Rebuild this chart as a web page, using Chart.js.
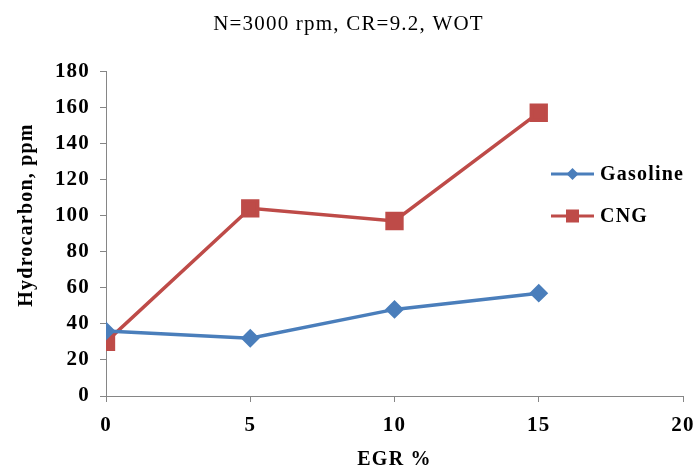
<!DOCTYPE html>
<html><head><meta charset="utf-8">
<script src="https://cdn.jsdelivr.net/npm/chart.js@4/dist/chart.umd.min.js"></script>
<style>html,body{margin:0;padding:0;background:#fff}#wrap{width:697px;height:469px}</style>
</head><body><div id="wrap"><canvas id="c" width="697" height="469"></canvas></div>
<script>
const egr = [0, 5, 10, 15];
const gasoline = [36, 32, 48, 57];
const cng = [30, 104, 97, 157];
const seriesNames = ['Gasoline', 'CNG'];
const titleText = 'N=3000 rpm, CR=9.2, WOT';
const xTitle = 'EGR %';
const yTitle = 'Hydrocarbon, ppm';

const FONT = "'Liberation Serif', 'Times New Roman', serif";
const axisColor = '#868686';
const SPACING = '1.2px';

const spacingPlugin = {
  id: 'spacing',
  beforeLayout(chart) { chart.ctx.letterSpacing = SPACING; },
  beforeDraw(chart) { chart.ctx.letterSpacing = SPACING; }
};

const yTitlePlugin = {
  id: 'yTitle',
  afterDraw(chart) {
    const ctx = chart.ctx;
    ctx.save();
    ctx.letterSpacing = SPACING;
    ctx.translate(27, 215);
    ctx.rotate(-Math.PI / 2);
    ctx.fillStyle = '#000';
    ctx.font = 'bold 20px ' + FONT;
    ctx.textAlign = 'center';
    ctx.textBaseline = 'middle';
    ctx.fillText(yTitle, 0, 0);
    ctx.restore();
  }
};

const legendPlugin = {
  id: 'customLegend',
  afterDraw(chart) {
    const ctx = chart.ctx;
    const rows = [174, 216];
    chart.data.datasets.forEach((ds, i) => {
      const y = rows[i];
      ctx.save();
      ctx.letterSpacing = SPACING;
      ctx.strokeStyle = ds.borderColor;
      ctx.lineWidth = 3;
      ctx.beginPath(); ctx.moveTo(551, y); ctx.lineTo(594, y); ctx.stroke();
      ctx.fillStyle = ds.backgroundColor;
      const cx = 572.5;
      if (ds.pointStyle === 'rectRot') {
        ctx.beginPath(); ctx.moveTo(cx, y - 6); ctx.lineTo(cx + 6, y); ctx.lineTo(cx, y + 6); ctx.lineTo(cx - 6, y); ctx.closePath(); ctx.fill();
      } else {
        ctx.fillRect(cx - 6.5, y - 6.5, 13, 13);
      }
      ctx.fillStyle = '#000';
      ctx.font = 'bold 20px ' + FONT;
      ctx.textBaseline = 'middle';
      ctx.fillText(ds.label, 600, y + 1);
      ctx.restore();
    });
  }
};

new Chart(document.getElementById('c'), {
  type: 'line',
  data: {
    datasets: [
      { label: seriesNames[0], data: egr.map((x, i) => ({x, y: gasoline[i]})),
        borderColor: '#4A7EBB', backgroundColor: '#4A7EBB', borderWidth: 3.5,
        pointStyle: 'rectRot', pointRadius: 7, pointHoverRadius: 7, tension: 0 },
      { label: seriesNames[1], data: egr.map((x, i) => ({x, y: cng[i]})),
        borderColor: '#BE4B48', backgroundColor: '#BE4B48', borderWidth: 3.5,
        pointStyle: 'rect', pointRadius: 10.5, pointHoverRadius: 10.5, tension: 0 }
    ]
  },
  options: {
    responsive: false, animation: false,
    layout: { padding: { left: 0, right: 0, top: 0, bottom: 0 } },
    plugins: {
      legend: { display: false }, tooltip: { enabled: false },
      title: { display: true, text: titleText, color: '#000',
        font: { family: FONT, size: 21, weight: 'normal' }, padding: { top: 12, bottom: 34 } }
    },
    scales: {
      x: { type: 'linear', min: 0, max: 20,
        ticks: { stepSize: 5, color: '#000', font: { family: FONT, size: 21, weight: 'bold' }, padding: 11 },
        grid: { drawOnChartArea: false, drawTicks: true, tickLength: 6, color: axisColor },
        border: { color: axisColor, width: 1 },
        title: { display: true, text: xTitle, color: '#000', font: { family: FONT, size: 20, weight: 'bold' }, padding: { top: 2, bottom: -3 } },
        afterFit(s) { s.height = 73; s.paddingRight = 13; s.paddingLeft = 0; }
      },
      y: { min: 0, max: 180,
        ticks: { stepSize: 20, color: '#000', font: { family: FONT, size: 21, weight: 'bold' }, padding: 10 },
        grid: { drawOnChartArea: false, drawTicks: true, tickLength: 6, color: axisColor },
        border: { color: axisColor, width: 1 },
        title: { display: false },
        afterFit(s) { s.width = 106; }
      }
    }
  },
  plugins: [spacingPlugin, legendPlugin, yTitlePlugin]
});
</script></body></html>
